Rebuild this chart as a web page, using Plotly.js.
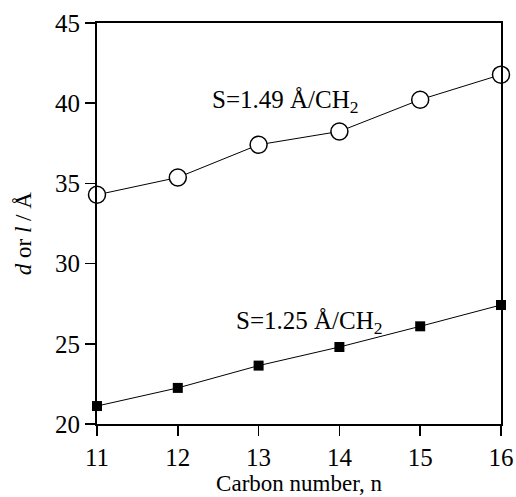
<!DOCTYPE html>
<html>
<head>
<meta charset="utf-8">
<script src="https://cdn.plot.ly/plotly-3.0.1.min.js"></script>
<style>html,body{margin:0;padding:0;background:#fff;}#chart{width:516px;height:497px;}</style>
</head>
<body>
<div id="chart"></div>
<script>
const carbonNumber = [11, 12, 13, 14, 15, 16];
const dSpacing = [34.29, 35.37, 37.41, 38.24, 40.22, 41.78];
const lLength = [21.12, 22.25, 23.64, 24.80, 26.09, 27.42];
const labelUpper = "S=1.49 Å/CH<sub>2</sub>";
const labelLower = "S=1.25 Å/CH<sub>2</sub>";
const yTitle = "<i>d</i> or <i>l</i> / Å";
const xTitle = "Carbon number, n";

const font = "'Liberation Serif', 'Times New Roman', serif";

const traces = [
  {
    x: carbonNumber, y: dSpacing, type: 'scatter', mode: 'lines+markers',
    line: {color: '#000', width: 1},
    marker: {symbol: 'circle', size: 17, color: '#fff', line: {color: '#000', width: 1.5}},
    cliponaxis: false, showlegend: false
  },
  {
    x: carbonNumber, y: lLength, type: 'scatter', mode: 'lines+markers',
    line: {color: '#000', width: 1},
    marker: {symbol: 'square', size: 10, color: '#000', line: {color: '#000', width: 0}},
    cliponaxis: false, showlegend: false
  }
];

const layout = {
  width: 516, height: 497,
  margin: {l: 97, r: 15, t: 23, b: 73},
  paper_bgcolor: '#fff', plot_bgcolor: '#fff',
  font: {family: font, color: '#000', size: 24},
  xaxis: {
    range: [11, 16], tickvals: carbonNumber, ticks: 'outside', ticklen: 10, tickwidth: 1.5,
    tickcolor: '#000', showline: true, linecolor: '#000', linewidth: 2, mirror: true,
    showgrid: false, zeroline: false, tickfont: {size: 25, family: font, color: '#000'},
    title: {text: xTitle, font: {size: 23, family: font, color: '#000'}, standoff: 2}
  },
  yaxis: {
    range: [20, 45], dtick: 5, ticks: 'outside', ticklen: 10, tickwidth: 1.5,
    tickcolor: '#000', showline: true, linecolor: '#000', linewidth: 2, mirror: true,
    showgrid: false, zeroline: false, tickfont: {size: 25, family: font, color: '#000'}
  },
  annotations: [
    {x: -0.18, y: 0.474, xref: 'paper', yref: 'paper', text: yTitle, showarrow: false,
     textangle: -90, xanchor: 'center', yanchor: 'middle',
     font: {size: 23, family: font, color: '#000'}},
    {x: 12.4, y: 40.1, xref: 'x', yref: 'y', text: labelUpper, showarrow: false,
     xanchor: 'left', yanchor: 'middle', font: {size: 25, family: font, color: '#000'}},
    {x: 12.7, y: 26.35, xref: 'x', yref: 'y', text: labelLower, showarrow: false,
     xanchor: 'left', yanchor: 'middle', font: {size: 25, family: font, color: '#000'}}
  ]
};

Plotly.newPlot('chart', traces, layout, {staticPlot: true, displayModeBar: false});
</script>
</body>
</html>
